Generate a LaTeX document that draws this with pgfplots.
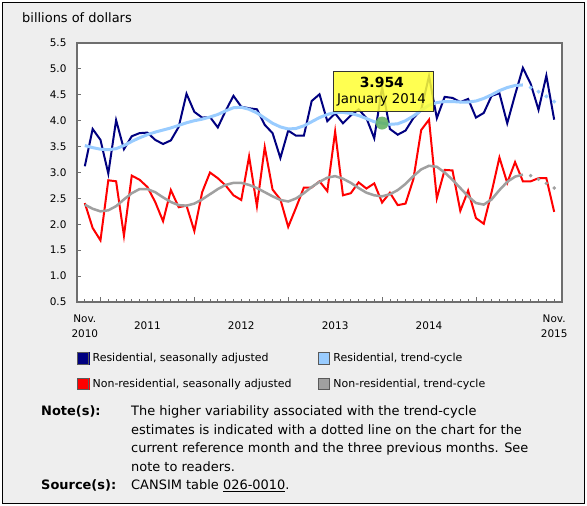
\documentclass[border=0pt]{standalone}
\usepackage{pgfplots}
\usepackage{pgfplotstable}
\pgfplotsset{compat=1.18}
\usepackage{fontspec}
\setmainfont{DejaVu Sans}
\definecolor{resSA}{HTML}{000080}
\definecolor{resTC}{HTML}{99CCFF}
\definecolor{nonSA}{HTML}{FF0000}
\definecolor{nonTC}{HTML}{A0A0A0}
\definecolor{bg}{HTML}{EEEEEE}
\definecolor{framec}{HTML}{6E6E6E}
\definecolor{tipyellow}{HTML}{FFFF33}
\definecolor{hl}{HTML}{5FAF5F}

\pgfplotstableread{
i v
0 3.12
1 3.84
2 3.63
3 2.98
4 4.01
5 3.45
6 3.70
7 3.76
8 3.77
9 3.63
10 3.55
11 3.62
12 3.88
13 4.52
14 4.17
15 4.06
16 4.07
17 3.87
18 4.19
19 4.48
20 4.27
21 4.24
22 4.22
23 3.92
24 3.76
25 3.28
26 3.81
27 3.71
28 3.71
29 4.38
30 4.51
31 3.99
32 4.14
33 3.95
34 4.10
35 4.22
36 4.05
37 3.66
38 4.65
39 3.84
40 3.73
41 3.81
42 4.05
43 4.21
44 4.86
45 4.05
46 4.46
47 4.44
48 4.36
49 4.42
50 4.06
51 4.15
52 4.48
53 4.53
54 3.95
55 4.50
56 5.02
57 4.71
58 4.21
59 4.87
60 4.02
}\resSA

\pgfplotstableread{
i v
0 3.52
1 3.48
2 3.45
3 3.44
4 3.46
5 3.52
6 3.60
7 3.67
8 3.73
9 3.78
10 3.82
11 3.86
12 3.91
13 3.96
14 4.00
15 4.03
16 4.07
17 4.12
18 4.19
19 4.25
20 4.26
21 4.22
22 4.15
23 4.05
24 3.95
25 3.88
26 3.84
27 3.85
28 3.90
29 3.98
30 4.06
31 4.12
32 4.16
33 4.16
34 4.14
35 4.10
36 4.04
37 3.98
38 3.954
39 3.93
40 3.94
41 4.00
42 4.09
43 4.20
44 4.30
45 4.35
46 4.37
47 4.37
48 4.36
49 4.36
50 4.38
51 4.43
52 4.50
53 4.58
54 4.64
55 4.68
56 4.69
}\resTC

\pgfplotstableread{
i v
57 4.64
58 4.56
59 4.47
60 4.37
}\resTCdot

\pgfplotstableread{
i v
0 2.41
1 1.93
2 1.69
3 2.85
4 2.83
5 1.78
6 2.94
7 2.86
8 2.72
9 2.43
10 2.06
11 2.66
12 2.33
13 2.36
14 1.87
15 2.62
16 3.00
17 2.89
18 2.75
19 2.56
20 2.47
21 3.31
22 2.35
23 3.49
24 2.67
25 2.48
26 1.95
27 2.32
28 2.71
29 2.71
30 2.83
31 2.64
32 3.79
33 2.56
34 2.60
35 2.81
36 2.69
37 2.79
38 2.42
39 2.61
40 2.37
41 2.40
42 2.87
43 3.82
44 4.02
45 2.50
46 3.05
47 3.04
48 2.26
49 2.65
50 2.12
51 2.01
52 2.62
53 3.29
54 2.80
55 3.20
56 2.83
57 2.83
58 2.89
59 2.89
60 2.24
}\nonSA

\pgfplotstableread{
i v
0 2.38
1 2.30
2 2.25
3 2.27
4 2.35
5 2.48
6 2.60
7 2.68
8 2.68
9 2.62
10 2.52
11 2.43
12 2.37
13 2.36
14 2.40
15 2.48
16 2.58
17 2.68
18 2.76
19 2.80
20 2.80
21 2.76
22 2.70
23 2.62
24 2.54
25 2.47
26 2.44
27 2.50
28 2.60
29 2.72
30 2.82
31 2.90
32 2.93
33 2.88
34 2.80
35 2.70
36 2.61
37 2.56
38 2.54
39 2.58
40 2.66
41 2.78
42 2.93
43 3.06
44 3.13
45 3.11
46 3.00
47 2.86
48 2.70
49 2.54
50 2.41
51 2.38
52 2.48
53 2.66
54 2.82
55 2.92
56 2.96
}\nonTC

\pgfplotstableread{
i v
57 2.94
58 2.87
59 2.79
60 2.70
}\nonTCdot

\begin{document}
\begin{tikzpicture}
\path[fill=white] (0bp,0bp) rectangle (587bp,506bp);
\draw[fill=bg, line width=1.2bp] (2.5bp,2.5bp) rectangle (584.5bp,503.5bp);
\node[anchor=base west, inner sep=0pt, font=\fontsize{13}{15}\selectfont] at (22bp,483.5bp) {billions of dollars};
\begin{axis}[
  at={(77bp,204bp)}, anchor=south west, scale only axis,
  width=485bp, height=259bp,
  xmin=-1, xmax=61, ymin=0.5, ymax=5.5,
  axis background/.style={fill=white},
  axis line style={draw=framec, line width=2bp},
  tick align=inside,
  xtick pos=left, ytick pos=left,
  major tick length=4.5bp, minor tick length=2.5bp,
  tick style={draw=framec, line width=0.9bp},
  minor tick style={draw=framec, line width=0.8bp},
  xtick={2,14,26,38,50}, xticklabels={},
  minor xtick={0,...,60},
  extra x ticks={0,8,20,32,44,60},
  extra x tick labels={{Nov.\\2010},{\mbox{}\\2011},{\mbox{}\\2012},{\mbox{}\\2013},{\mbox{}\\2014},{Nov.\\2015}},
  extra x tick style={major tick length=0pt},
  xticklabel style={align=center, font=\fontsize{10.5}{15}\selectfont, yshift=-9bp},
  ytick={0.5,1.0,1.5,2.0,2.5,3.0,3.5,4.0,4.5,5.0,5.5},
  yticklabel style={font=\fontsize{10.5}{12}\selectfont, xshift=-7bp,
    /pgf/number format/.cd, fixed, fixed zerofill, precision=1, assume math mode=true},
  legend columns=2,
  legend cell align=left,
  legend style={at={(-0.0007,-0.1931)}, anchor=north west, draw=none, fill=none,
    inner sep=0pt, row sep=13bp, column sep=3.4bp,
    nodes={inner sep=0pt}, font=\fontsize{11}{13}\selectfont},
  legend image code/.code={
    \fill[#1] (0bp,-5.8bp) rectangle (11.6bp,5.8bp);
    \draw[black!65, line width=0.8bp] (0bp,-5.8bp) rectangle (11.6bp,5.8bp);},
]
\addplot[color=resSA, line width=2bp, forget plot] table[x=i,y=v] {\resSA};
\addplot[color=nonSA, line width=2bp, forget plot] table[x=i,y=v] {\nonSA};
\addplot[color=resTC, line width=3bp, forget plot] table[x=i,y=v] {\resTC};
\addplot[color=resTC, only marks, mark=*, mark size=1.8bp, forget plot] table[x=i,y=v] {\resTCdot};
\addplot[color=nonTC, line width=2.5bp, forget plot] table[x=i,y=v] {\nonTC};
\addplot[color=nonTC, only marks, mark=*, mark size=1.6bp, forget plot] table[x=i,y=v] {\nonTCdot};
\addplot[only marks, mark=*, mark size=6.5bp, color=hl, mark options={fill opacity=0.85, draw opacity=0}, forget plot] coordinates {(38,3.954)};
\node[draw=black!80, line width=1bp, fill=tipyellow, fill opacity=0.85, minimum width=100bp, minimum height=40bp, inner sep=0pt] at (axis cs:38.12,4.573) {};
\node[font=\fontsize{14}{16}\bfseries\selectfont, inner sep=0pt] at (axis cs:37.97,4.73) {3.954};
\node[font=\fontsize{13.4}{15}\selectfont, inner sep=0pt] at (axis cs:37.92,4.40) {January 2014};
\addlegendimage{color=resSA}
\addlegendentry{\makebox[221.6bp][l]{Residential, seasonally adjusted}}
\addlegendimage{color=resTC}
\addlegendentry{Residential, trend-cycle}
\addlegendimage{color=nonSA}
\addlegendentry{\makebox[221.6bp][l]{Non-residential, seasonally adjusted}}
\addlegendimage{color=nonTC}
\addlegendentry{Non-residential, trend-cycle}
\end{axis}
\begin{scope}[font=\fontsize{13}{15}\selectfont]
\node[anchor=base west, inner sep=0pt] at (41bp,90.4bp) {\bfseries Note(s):};
\node[anchor=base west, inner sep=0pt] at (131bp,90.4bp) {The higher variability associated with the trend-cycle};
\node[anchor=base west, inner sep=0pt] at (131bp,71.9bp) {estimates is indicated with a dotted line on the chart for the};
\node[anchor=base west, inner sep=0pt] at (131bp,53.4bp) {current reference month and the three previous months. See};
\node[anchor=base west, inner sep=0pt] at (131bp,34.9bp) {note to readers.};
\node[anchor=base west, inner sep=0pt] at (41bp,16.4bp) {\bfseries Source(s):};
\node[anchor=base west, inner sep=0pt] at (131bp,16.4bp) {CANSIM table \underline{026-0010}.};
\end{scope}
\end{tikzpicture}
\end{document}
